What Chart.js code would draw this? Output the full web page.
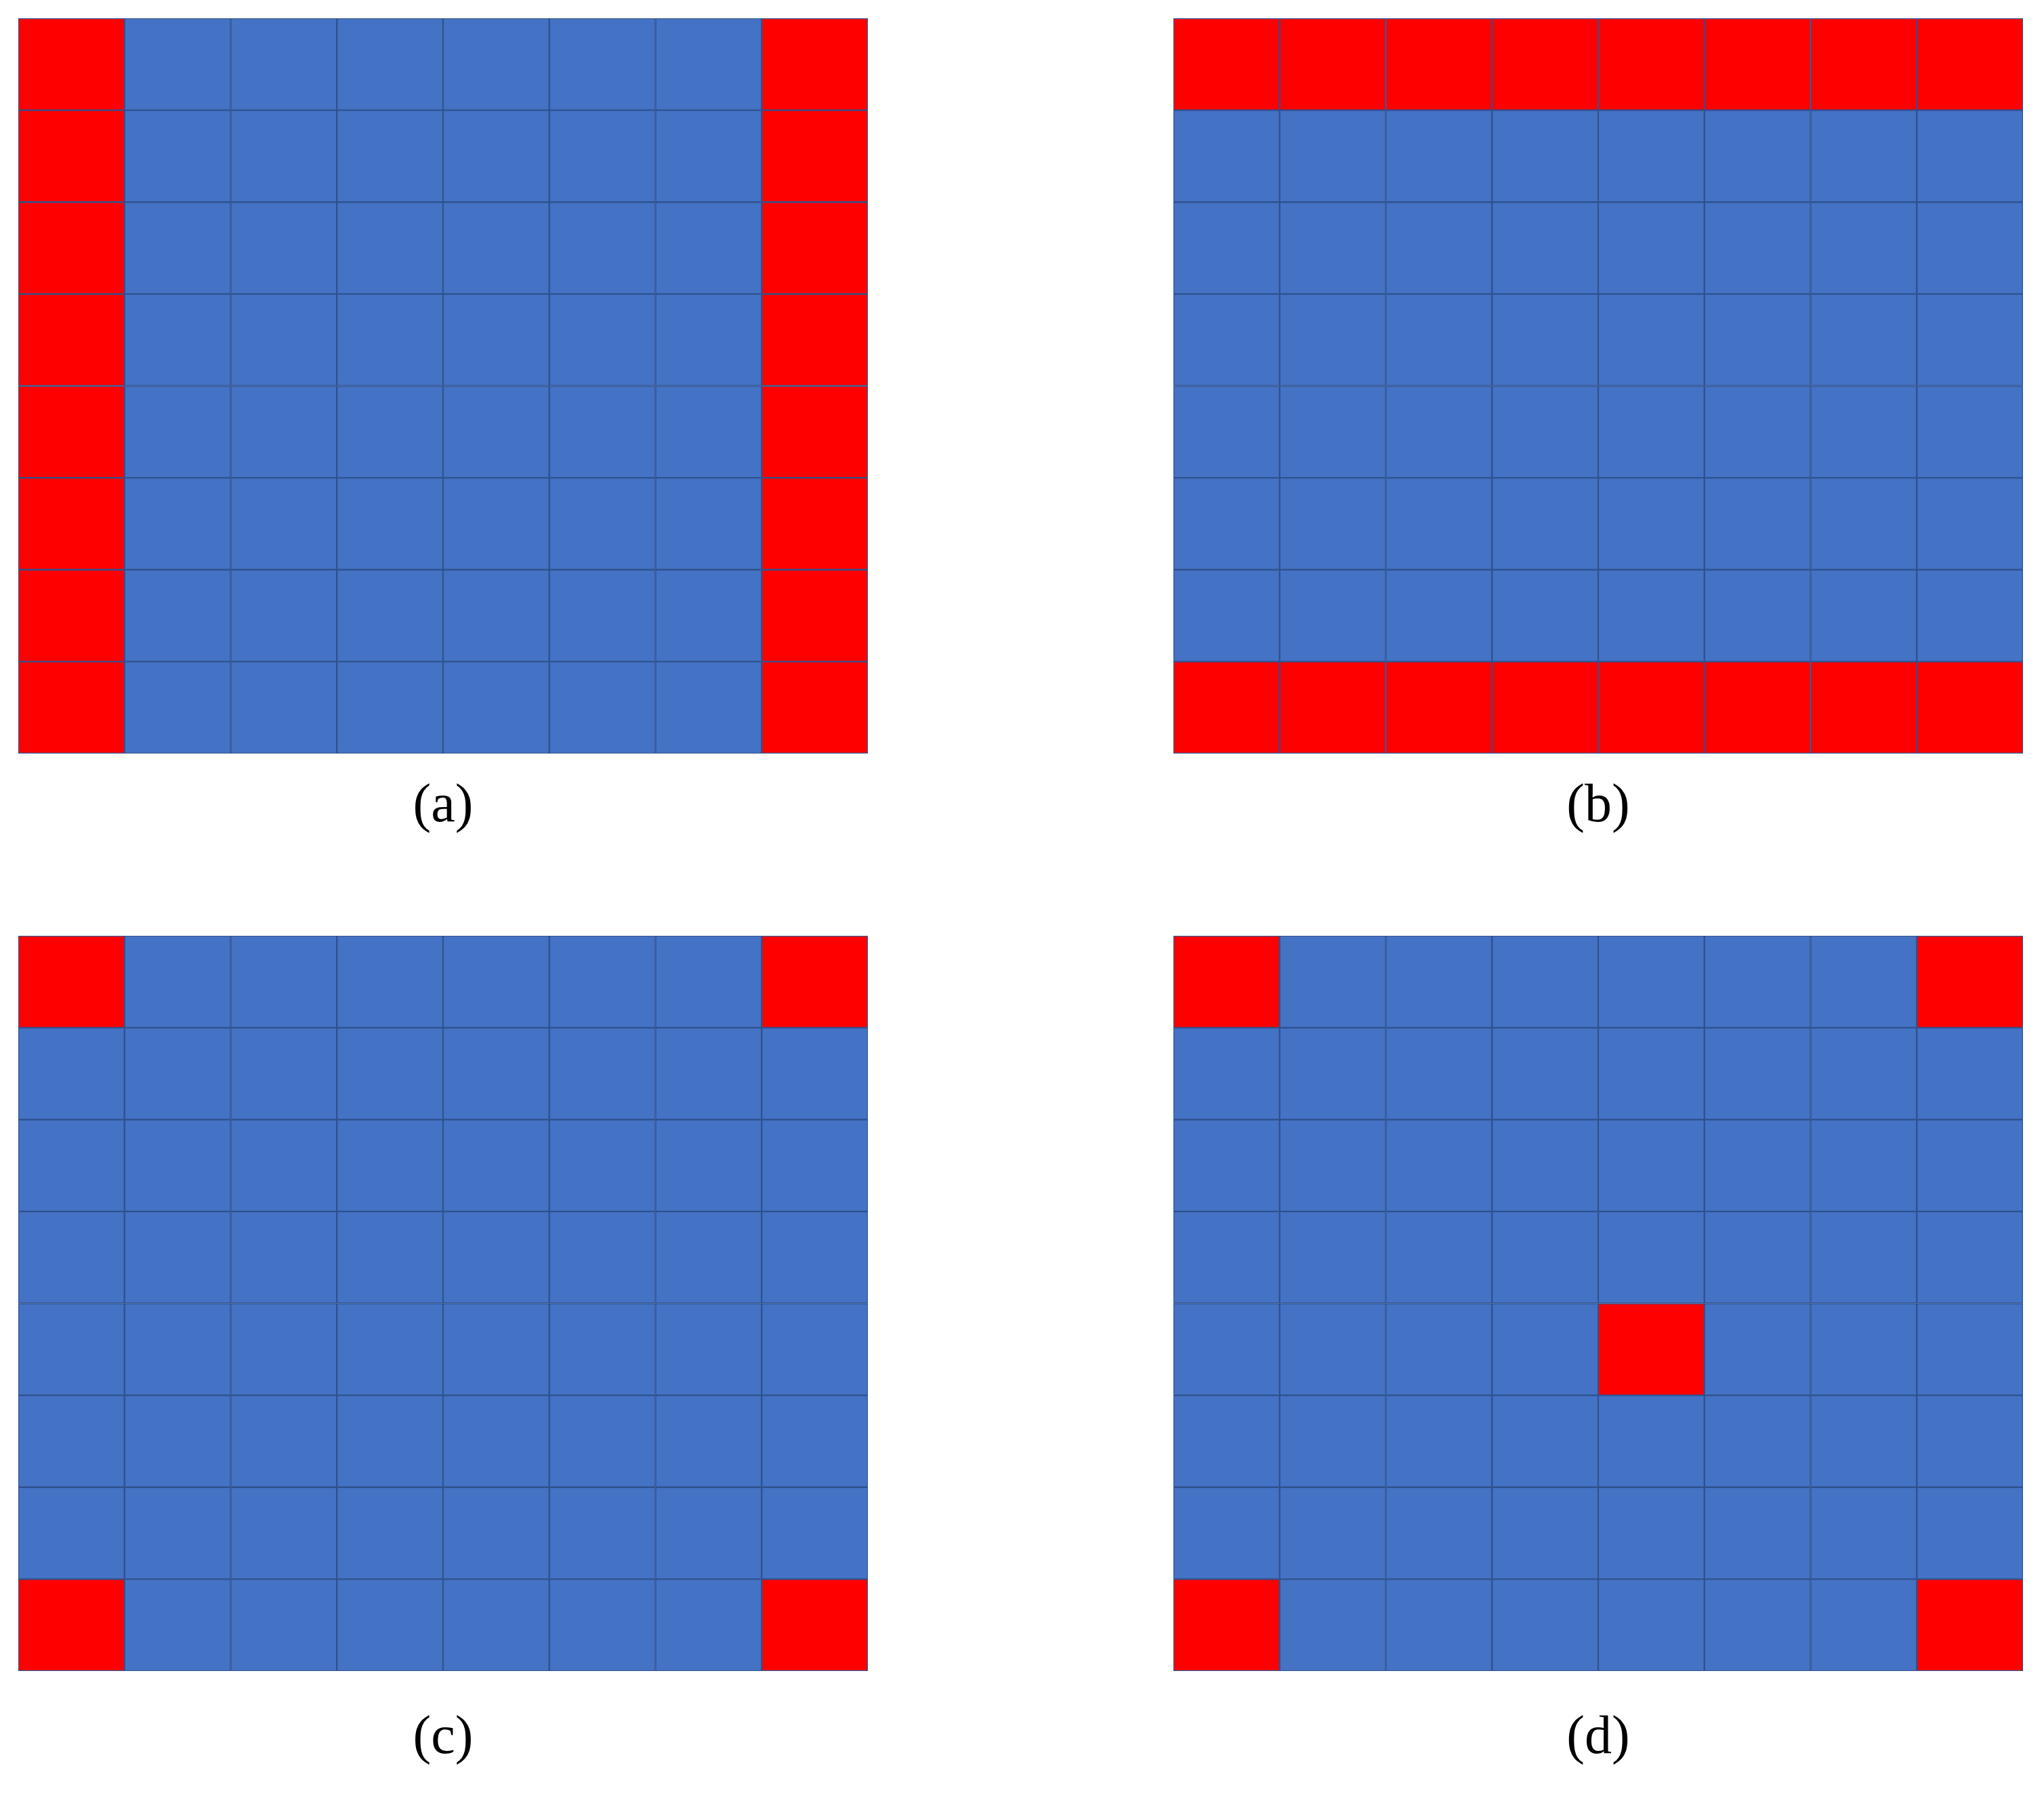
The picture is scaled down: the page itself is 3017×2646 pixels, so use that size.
<!DOCTYPE html>
<html>
<head>
<meta charset="utf-8">
<script src="https://cdn.jsdelivr.net/npm/chart.js@4"></script>
<style>
  body { margin: 0; background: #fff; width: 3017px; height: 2646px; position: relative; overflow: hidden; }
  .panel { position: absolute; width: 1256px; height: 1087px; }
  .label { position: absolute; width: 1256px; text-align: center; font-family: "Liberation Serif", serif; font-size: 80px; color: #000; }
</style>
</head>
<body>
<div class="panel" style="left:26px;top:26px"><canvas id="pa"></canvas></div>
<div class="panel" style="left:1731px;top:26px"><canvas id="pb"></canvas></div>
<div class="panel" style="left:26px;top:1380px"><canvas id="pc"></canvas></div>
<div class="panel" style="left:1731px;top:1380px"><canvas id="pd"></canvas></div>
<div class="label" style="left:26px;top:1140px">(a)</div>
<div class="label" style="left:1731px;top:1140px">(b)</div>
<div class="label" style="left:26px;top:2515px">(c)</div>
<div class="label" style="left:1731px;top:2515px">(d)</div>
<script>
// 8x8 masks, row 0 = top row; 1 = red cell
const columns = ["1", "2", "3", "4", "5", "6", "7", "8"];
const maskA = [
  "10000001", "10000001", "10000001", "10000001",
  "10000001", "10000001", "10000001", "10000001"
];
const maskB = [
  "11111111", "00000000", "00000000", "00000000",
  "00000000", "00000000", "00000000", "11111111"
];
const maskC = [
  "10000001", "00000000", "00000000", "00000000",
  "00000000", "00000000", "00000000", "10000001"
];
const maskD = [
  "10000001", "00000000", "00000000", "00000000",
  "00001000", "00000000", "00000000", "10000001"
];

const BLUE = "#4472C4", RED = "#FF0000", EDGE = "#2F528F";

function makeGrid(canvasId, mask) {
  const ctx = document.getElementById(canvasId).getContext("2d");
  // dataset i is stacked from the bottom, so it maps to row 7 - i
  const datasets = [];
  for (let i = 0; i < 8; i++) {
    const row = mask[7 - i];
    datasets.push({
      data: columns.map(() => 1),
      backgroundColor: columns.map((c, j) => (row[j] === "1" ? RED : BLUE)),
      borderColor: EDGE,
      borderWidth: 1.5,
      borderSkipped: false,
      categoryPercentage: 1,
      barPercentage: 1,
    });
  }
  return new Chart(ctx, {
    type: "bar",
    data: { labels: columns, datasets },
    options: {
      responsive: true,
      maintainAspectRatio: false,
      animation: false,
      layout: { padding: 1 },
      plugins: { legend: { display: false }, tooltip: { enabled: false } },
      scales: {
        x: { stacked: true, display: false },
        y: { stacked: true, display: false, min: 0, max: 8 },
      },
    },
  });
}

makeGrid("pa", maskA);
makeGrid("pb", maskB);
makeGrid("pc", maskC);
makeGrid("pd", maskD);
</script>
</body>
</html>
